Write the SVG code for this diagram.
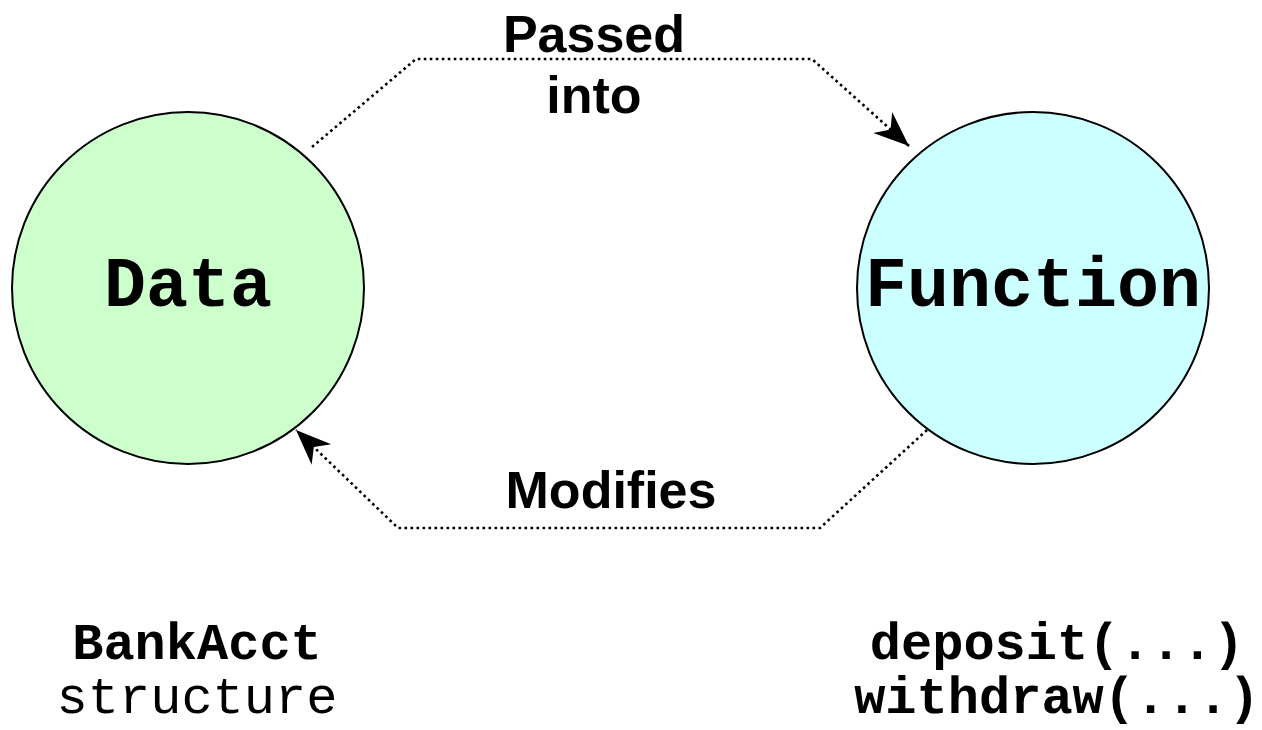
<svg xmlns="http://www.w3.org/2000/svg" width="1262" height="730" viewBox="0 0 1262 730">
<style>
.node{stroke:#000;stroke-width:2}
.mono{font-family:"Liberation Mono","Courier New",monospace;font-weight:bold;text-anchor:middle;fill:#000}
.lbl{font-family:"Liberation Sans",Arial,sans-serif;font-weight:bold;font-size:52px;text-anchor:middle;fill:#000}
.conn{fill:none;stroke:#000;stroke-width:2.6;stroke-dasharray:2.6 3.4}
</style>
<defs>
<marker id="arr" markerUnits="userSpaceOnUse" markerWidth="40" markerHeight="40" refX="0" refY="0" viewBox="-32 -16 34 32" orient="auto">
<path d="M0,0 L-30,-12 L-21,0 L-30,12 Z" fill="#000"/>
</marker>
</defs>
<rect width="1262" height="730" fill="#fff"/>
<g id="data">
<circle class="node" cx="188" cy="288" r="176" fill="#ccffcc"/>
<text class="mono" x="188" y="306" font-size="70">Data</text>
</g>
<g id="function">
<circle class="node" cx="1033" cy="288" r="176" fill="#ccffff"/>
<text class="mono" x="1033" y="306" font-size="70">Function</text>
</g>
<g id="connectors">
<path class="conn" d="M312,147 L416,59 L812,59 L909,146" marker-end="url(#arr)"/>
<path class="conn" d="M927,430 L820,528 L398,528 L296,430" marker-end="url(#arr)"/>
<text class="lbl" x="594" y="52">Passed</text>
<text class="lbl" x="594" y="113">into</text>
<text class="lbl" x="611" y="508">Modifies</text>
</g>
<g id="captions">
<text class="mono" x="197" y="659" font-size="52">BankAcct</text>
<text class="mono" x="197" y="713" font-size="52" style="font-weight:normal">structure</text>
<text class="mono" x="1057" y="659" font-size="52">deposit(...)</text>
<text class="mono" x="1057" y="713" font-size="52">withdraw(...)</text>
</g>
</svg>
